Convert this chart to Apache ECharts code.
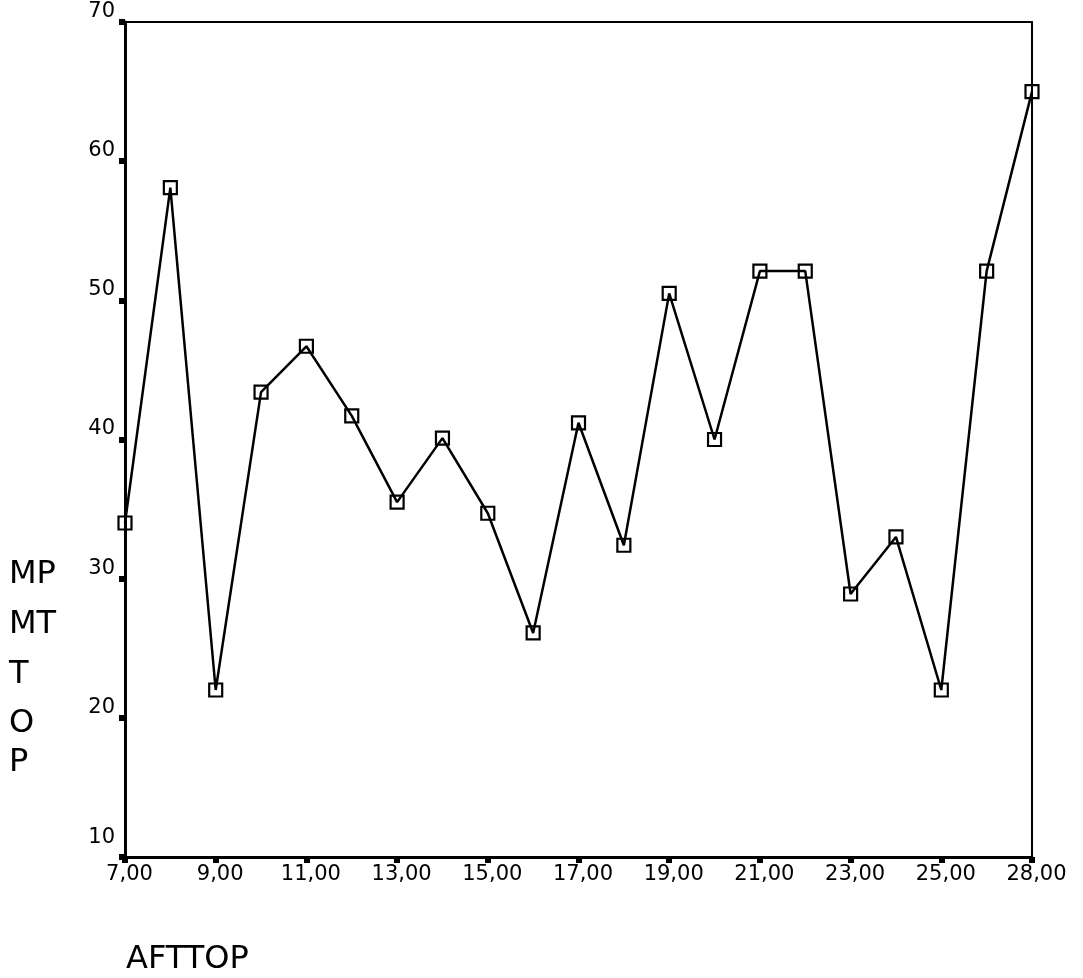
<!DOCTYPE html>
<html>
<head>
<meta charset="utf-8">
<script src="https://cdn.jsdelivr.net/npm/echarts@6/dist/echarts.min.js"></script>
<style>
html,body{margin:0;padding:0;background:#fff;}
#chart{width:1083px;height:978px;}
</style>
</head>
<body>
<div id="chart"></div>
<script>
// Data
var categories = ['7,00','8,00','9,00','10,00','11,00','12,00','13,00','14,00','15,00','16,00','17,00','18,00','19,00','20,00','21,00','22,00','23,00','24,00','25,00','26,00','28,00'];
var values = [34.0, 58.1, 22.0, 43.4, 46.7, 41.7, 35.5, 40.1, 34.7, 26.1, 41.2, 32.4, 50.5, 40.0, 52.1, 52.1, 28.9, 33.0, 22.0, 52.1, 65.0];
var yTicks = {min: 10, max: 70, interval: 10};
var xTitle = 'AFTTOP';
var yTitleLines = ['MP', 'MT', 'T', 'O', 'P'];

var FONT = 'DejaVu Sans';
var chart = echarts.init(document.getElementById('chart'), null, {renderer: 'canvas'});

var yTitleTops = [562, 612, 662, 711, 750];
var graphics = yTitleLines.map(function (t, i) {
  return {type: 'text', left: 9, top: yTitleTops[i] - 3,
    style: {text: t, font: '32px "' + FONT + '"', fill: '#000'}};
});
graphics.push({type: 'text', left: 126, top: 944,
  style: {text: xTitle, font: '32px "' + FONT + '"', fill: '#000'}});

var labelEvery = function (idx) { return idx % 2 === 0; };

chart.setOption({
  animation: false,
  backgroundColor: '#fff',
  grid: {left: 125, right: 51, top: 22, bottom: 121, show: true, borderColor: '#000', borderWidth: 2, backgroundColor: 'transparent'},
  xAxis: {
    type: 'category',
    data: categories,
    boundaryGap: false,
    axisLine: {lineStyle: {color: '#000', width: 3}},
    axisTick: {show: true, length: 6, interval: labelEvery, lineStyle: {color: '#000', width: 6}},
    axisLabel: {interval: labelEvery, color: '#000', fontFamily: FONT, fontSize: 21, margin: 7, padding: [0, 0, 0, 9]},
    splitLine: {show: false}
  },
  yAxis: {
    type: 'value',
    min: yTicks.min, max: yTicks.max, interval: yTicks.interval,
    axisLine: {show: true, lineStyle: {color: '#000', width: 3}},
    axisTick: {show: true, length: 6, lineStyle: {color: '#000', width: 6}},
    axisLabel: {
      color: '#000', fontFamily: FONT, fontSize: 21, margin: 10, verticalAlign: 'bottom',
      formatter: function (v) { return v === yTicks.min ? '{low|' + v + '}' : String(v); },
      rich: {low: {fontFamily: FONT, fontSize: 21, color: '#000', padding: [0, 0, 9, 0]}}
    },
    splitLine: {show: false}
  },
  series: [{
    type: 'line',
    data: values,
    symbol: 'rect',
    symbolSize: 13,
    showAllSymbol: true,
    lineStyle: {color: '#000', width: 2.5},
    itemStyle: {color: 'transparent', borderColor: '#000', borderWidth: 2.2},
    emphasis: {disabled: true}
  }],
  graphic: graphics
});
</script>
</body>
</html>
